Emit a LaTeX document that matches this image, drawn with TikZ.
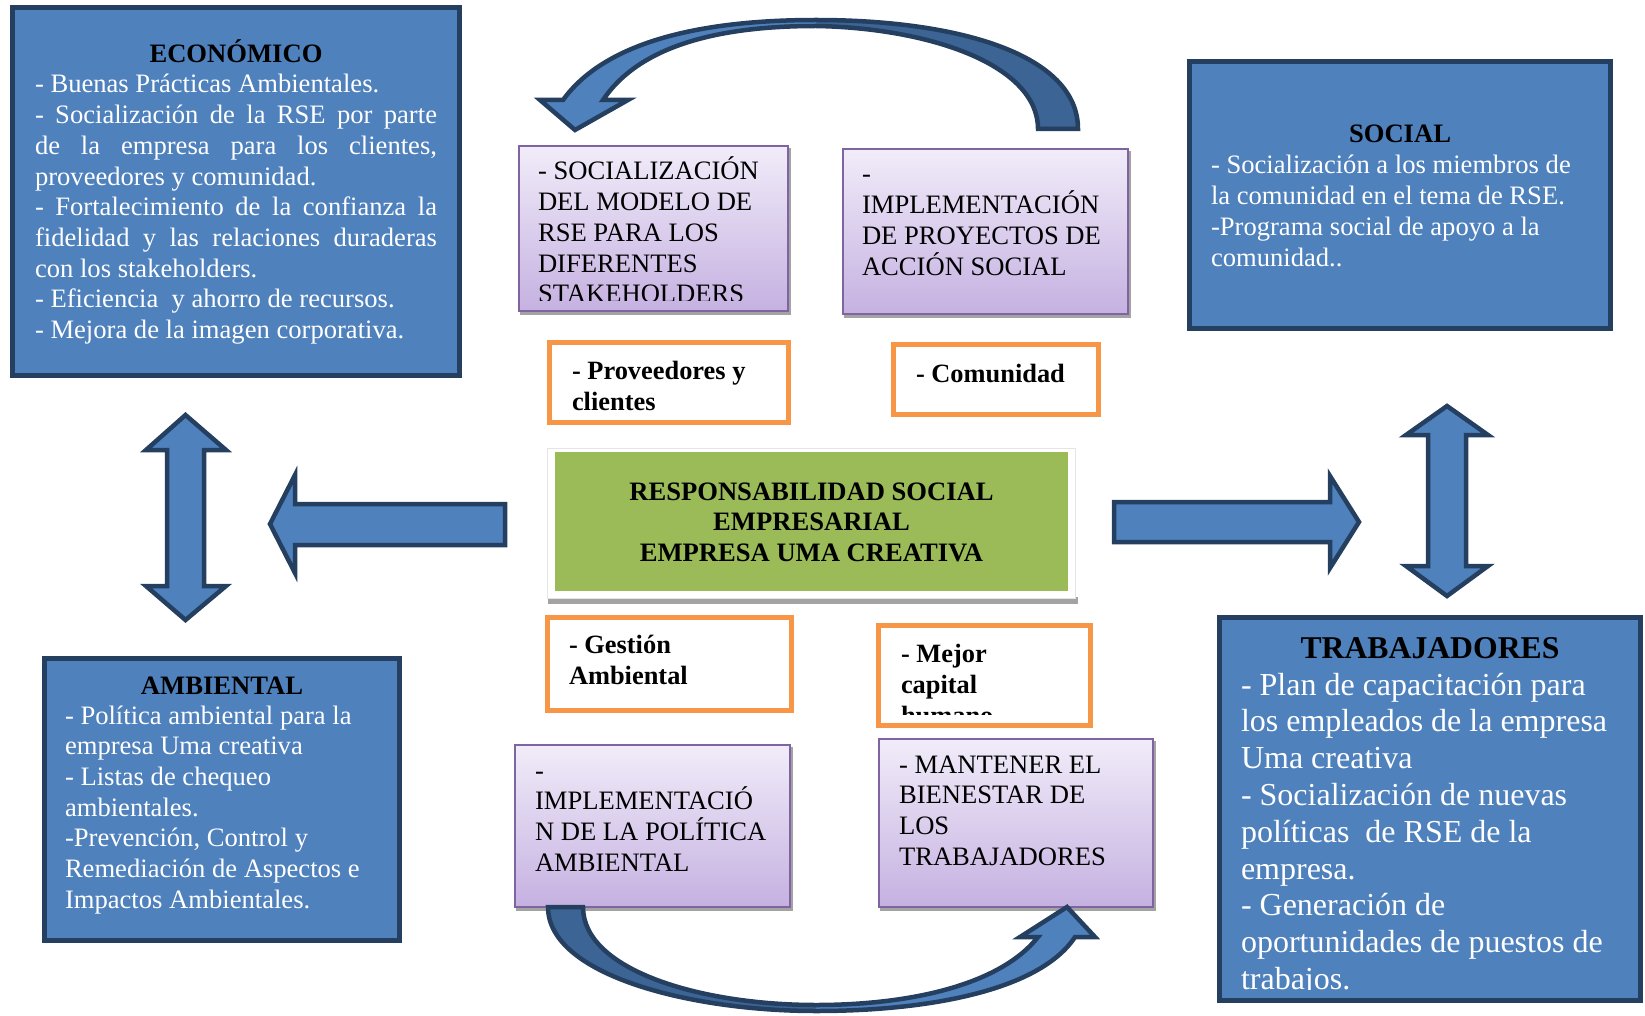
\documentclass[tikz,border=0pt]{standalone}
\usepackage{fontspec}
\setmainfont{Liberation Serif}

\definecolor{bfill}{HTML}{4F81BD}
\definecolor{bdark}{HTML}{3C6494}
\definecolor{navy}{HTML}{243F60}
\definecolor{pborder}{HTML}{8064A2}
\definecolor{ptop}{HTML}{F1ECF9}
\definecolor{pbot}{HTML}{C5B1E1}
\definecolor{orng}{HTML}{F79646}
\definecolor{grn}{HTML}{9BBB59}
\definecolor{shade}{HTML}{A3A3A3}

% a line stretched to the full width of its paragraph
\newcommand\jl[1]{\makebox[\linewidth][s]{#1}}

\begin{document}
\begin{tikzpicture}[x=1pt,y=-1pt,
  bluebox/.style={rectangle,draw=navy,line width=5pt,fill=bfill,inner sep=0pt},
  purplebox/.style={rectangle,draw=pborder,line width=2pt,top color=ptop,bottom color=pbot,inner sep=0pt},
  orangebox/.style={rectangle,draw=orng,line width=5pt,fill=white,inner sep=0pt},
  framebox/.style={rectangle,fill=white,draw=black!10,line width=0.8pt,inner sep=0pt},
  greenbox/.style={rectangle,fill=grn,inner sep=0pt},
  dropshadow/.style={fill=shade},
  txt/.style={inner sep=0pt,outer sep=0pt,anchor=base west,font=\fontsize{26.6}{30.7}\selectfont},
  whitetxt/.style={txt,text=white},
  boldtxt/.style={txt,font=\fontsize{26.4}{31}\selectfont\bfseries},
  headtxt/.style={inner sep=0pt,outer sep=0pt,anchor=base,font=\fontsize{26.6}{30.7}\selectfont\bfseries},
  blockarrow/.style={draw=navy,line width=4.5pt,fill=bfill,line join=miter},
  arrowline/.style={draw=navy,line width=4.5pt,line join=miter},
  toparrow/.style={insert path={(1078,129) .. controls (1078,55) and (960,20) .. (816,20)
      .. controls (720,20) and (610,35) .. (563,100) -- (540,100) -- (575,130) -- (628,100) -- (603,100)
      .. controls (640,45) and (720,26) .. (816,26) .. controls (930,28) and (1038,65) .. (1038,129) -- cycle}},
  bottomarrow/.style={insert path={(548,907) .. controls (548,975) and (690,1011) .. (816,1011)
      .. controls (930,1011) and (1040,990) .. (1075,937) -- (1095,937) -- (1067,907) -- (1020,937) -- (1038,937)
      .. controls (1000,985) and (910,1005) .. (816,1005) .. controls (700,1005) and (583,970) .. (583,907) -- cycle}},
]
\useasboundingbox (0,0) rectangle (1645,1016);

% ---------- ECONÓMICO ----------
\node[bluebox,minimum width=447pt,minimum height=368pt] (eco) at (236,191.5) {};
\node[headtxt] (ecoTitle) at (236,63) {ECONÓMICO};
\node[whitetxt] (ecoBody) at (35,93) {\parbox[t]{402pt}{\raggedright
- Buenas Prácticas Ambientales.\\
\jl{- Socialización de la RSE por parte}\\
\jl{de la empresa para los clientes,}\\
proveedores y comunidad.\\
\jl{- Fortalecimiento de la confianza la}\\
\jl{fidelidad y las relaciones duraderas}\\
con los stakeholders.\\
- Eficiencia~ y ahorro de recursos.\\
- Mejora de la imagen corporativa.}};

% ---------- SOCIAL ----------
\node[bluebox,minimum width=421pt,minimum height=267pt] (soc) at (1400,195) {};
\node[headtxt] (socTitle) at (1400,143) {SOCIAL};
\node[whitetxt] (socBody) at (1211,174) {\parbox[t]{395pt}{\raggedright
- Socialización a los miembros de\\
la comunidad en el tema de RSE.\\
-Programa social de apoyo a la\\
comunidad..}};

% ---------- AMBIENTAL ----------
\node[bluebox,minimum width=355pt,minimum height=282pt] (amb) at (222,799.5) {};
\node[headtxt] (ambTitle) at (222,694) {AMBIENTAL};
\node[whitetxt] (ambBody) at (65,724) {\parbox[t]{330pt}{\raggedright
- Política ambiental para la\\
empresa Uma creativa\\
- Listas de chequeo\\
ambientales.\\
-Prevención, Control y\\
Remediación de Aspectos e\\
Impactos Ambientales.}};

% ---------- TRABAJADORES ----------
\node[bluebox,minimum width=421pt,minimum height=383pt] (trab) at (1430,809) {};
\node[headtxt,font=\fontsize{31.7}{36.8}\selectfont\bfseries] (trabTitle) at (1430,658) {TRABAJADORES};
\begin{scope}
  \clip (1220,618) rectangle (1640,989.5);
  \node[whitetxt,font=\fontsize{32}{36.8}\selectfont] (trabBody) at (1241,695) {\parbox[t]{395pt}{\raggedright
  - Plan de capacitación para\\
  los empleados de la empresa\\
  Uma creativa\\
  - Socialización de nuevas\\
  políticas~ de RSE de la\\
  empresa.\\
  - Generación de\\
  oportunidades de puestos de\\
  trabajos.}};
\end{scope}

% ---------- central box ----------
\fill[dropshadow] (548,597) rectangle (1077.5,603.5);
\node[framebox,minimum width=528pt,minimum height=150pt] (rseFrame) at (811.5,523.5) {};
\node[greenbox,minimum width=513pt,minimum height=139pt] (rse) at (811.5,521.5) {};
\node[headtxt] (rseText) at (811.5,500) {\parbox[t]{510pt}{\centering
RESPONSABILIDAD SOCIAL\\EMPRESARIAL\\EMPRESA UMA CREATIVA}};

% ---------- action boxes ----------
\fill[dropshadow] (520,148) rectangle (791,315);
\node[purplebox,minimum width=269pt,minimum height=165pt] (pSoc) at (653.5,228.5) {};
\begin{scope}
  \clip (519,146) rectangle (788,300);
  \node[txt] (pSocText) at (538,180) {\parbox[t]{245pt}{\raggedright
  - SOCIALIZACIÓN\\DEL MODELO DE\\RSE PARA LOS\\DIFERENTES\\STAKEHOLDERS}};
\end{scope}

\fill[dropshadow] (844,151) rectangle (1131,318);
\node[purplebox,minimum width=285pt,minimum height=165pt] (pImp) at (985.5,231.5) {};
\node[txt] (pImpText) at (862,183) {\parbox[t]{260pt}{\raggedright
-\\IMPLEMENTACIÓN\\DE PROYECTOS DE\\ACCIÓN SOCIAL}};

\fill[dropshadow] (516,747) rectangle (793,911);
\node[purplebox,minimum width=275pt,minimum height=162pt] (pPol) at (652.5,826) {};
\node[txt] (pPolText) at (535,779) {\parbox[t]{250pt}{\raggedright
-\\IMPLEMENTACIÓ\\N DE LA POLÍTICA\\AMBIENTAL}};

\fill[dropshadow] (880,741) rectangle (1156,911);
\node[purplebox,minimum width=274pt,minimum height=168pt] (pBien) at (1016,823) {};
\node[txt] (pBienText) at (899,773) {\parbox[t]{250pt}{\raggedright
- MANTENER EL\\BIENESTAR DE\\LOS\\TRABAJADORES}};

% ---------- stakeholder boxes ----------
\node[orangebox,minimum width=239pt,minimum height=80pt] (oProv) at (669,382.5) {};
\node[boldtxt] (oProvText) at (572,379) {\parbox[t]{210pt}{\raggedright - Proveedores y\\clientes}};

\node[orangebox,minimum width=205pt,minimum height=70pt] (oCom) at (996,379.5) {};
\node[boldtxt] (oComText) at (916,382) {- Comunidad};

\node[orangebox,minimum width=244pt,minimum height=93pt] (oGes) at (669.5,664) {};
\node[boldtxt] (oGesText) at (569,653) {\parbox[t]{210pt}{\raggedright - Gestión\\Ambiental}};

\node[orangebox,minimum width=212pt,minimum height=100pt] (oMej) at (984.5,675.5) {};
\begin{scope}
  \clip (879,626) rectangle (1090,714);
  \node[boldtxt] (oMejText) at (901,662) {\parbox[t]{180pt}{\raggedright - Mejor\\capital\\humano}};
\end{scope}

% ---------- straight block arrows ----------
\draw[blockarrow] (505,504) -- (295,504) -- (295,475) -- (270,524) -- (295,573)
  -- (295,545) -- (505,545) -- cycle;
\draw[blockarrow] (1114,502) -- (1330,502) -- (1330,476) -- (1359,522) -- (1330,568)
  -- (1330,542) -- (1114,542) -- cycle;
\draw[blockarrow] (185.5,415) -- (226,450) -- (204,450) -- (204,586) -- (226,586)
  -- (185.5,620) -- (146,586) -- (167,586) -- (167,450) -- (146,450) -- cycle;
\draw[blockarrow] (1447,406) -- (1488,435) -- (1466,435) -- (1466,566) -- (1488,566)
  -- (1447,596) -- (1406,566) -- (1428,566) -- (1428,435) -- (1406,435) -- cycle;

% ---------- curved block arrows ----------
\fill[bfill,toparrow];
\begin{scope}
  \clip (816,0) rectangle (1110,145);
  \fill[bdark,toparrow];
\end{scope}
\path[arrowline,toparrow];

\fill[bfill,bottomarrow];
\begin{scope}
  \clip (520,895) rectangle (816,1016);
  \fill[bdark,bottomarrow];
\end{scope}
\path[arrowline,bottomarrow];

\end{tikzpicture}
\end{document}
